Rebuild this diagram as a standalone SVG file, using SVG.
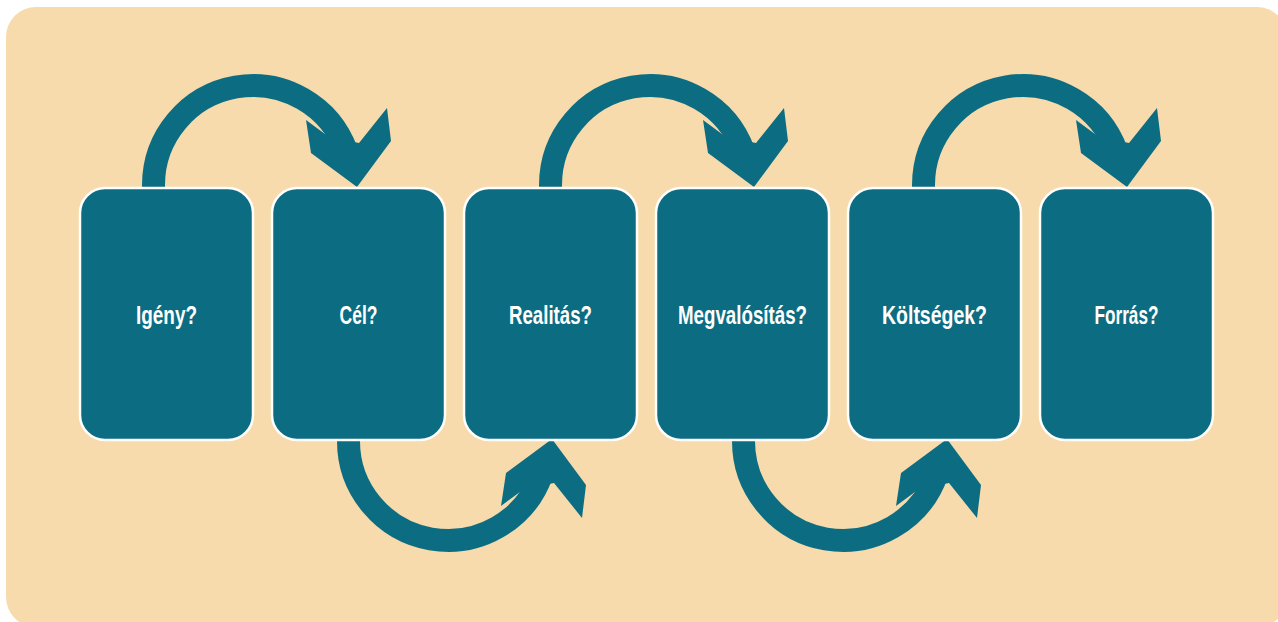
<svg xmlns="http://www.w3.org/2000/svg" xmlns:xlink="http://www.w3.org/1999/xlink" width="1278" height="622" viewBox="0 0 1278 622">
  <style>
    .bg { fill: #F7DBAD; }
    .box { fill: #0C6D82; stroke: #FFFFFF; stroke-width: 2.5; }
    .lbl { fill: #FFFFFF; font-family: "Liberation Sans", Arial, sans-serif; font-weight: bold; font-size: 25px; text-anchor: middle; }
    .arc { fill: none; stroke: #0C6D82; stroke-width: 23; }
    .head { fill: #0C6D82; }
  </style>
  <defs>
    <g id="curvedArrow">
      <path class="arc" d="M -99.5 6 L -99.5 0 A 99.5 99.5 0 0 1 93.5 -34"/>
      <polygon class="head" points="53,-65 58,-32 104,2 138,-44 134,-77 106,-42 76,-48"/>
    </g>
  </defs>
  <rect class="bg" x="6" y="7" width="1281" height="620" rx="30" ry="30"/>
  <g id="connectors">
    <use xlink:href="#curvedArrow" transform="translate(253,185)"/>
    <use xlink:href="#curvedArrow" transform="translate(650,185)"/>
    <use xlink:href="#curvedArrow" transform="translate(1023,185)"/>
    <use xlink:href="#curvedArrow" transform="translate(448,441) scale(1,-1)"/>
    <use xlink:href="#curvedArrow" transform="translate(843,441) scale(1,-1)"/>
  </g>
  <g id="node-igeny">
    <rect class="box" x="80" y="188" width="173" height="252" rx="25" ry="25"/>
    <text class="lbl" x="166.5" y="324" textLength="61" lengthAdjust="spacingAndGlyphs">Igény?</text>
  </g>
  <g id="node-cel">
    <rect class="box" x="272" y="188" width="173" height="252" rx="25" ry="25"/>
    <text class="lbl" x="358.5" y="324" textLength="38" lengthAdjust="spacingAndGlyphs">Cél?</text>
  </g>
  <g id="node-realitas">
    <rect class="box" x="464" y="188" width="173" height="252" rx="25" ry="25"/>
    <text class="lbl" x="550.5" y="324" textLength="83" lengthAdjust="spacingAndGlyphs">Realitás?</text>
  </g>
  <g id="node-megvalositas">
    <rect class="box" x="656" y="188" width="173" height="252" rx="25" ry="25"/>
    <text class="lbl" x="742.5" y="324" textLength="129" lengthAdjust="spacingAndGlyphs">Megvalósítás?</text>
  </g>
  <g id="node-koltsegek">
    <rect class="box" x="848" y="188" width="173" height="252" rx="25" ry="25"/>
    <text class="lbl" x="934.5" y="324" textLength="105" lengthAdjust="spacingAndGlyphs">Költségek?</text>
  </g>
  <g id="node-forras">
    <rect class="box" x="1040" y="188" width="173" height="252" rx="25" ry="25"/>
    <text class="lbl" x="1126.5" y="324" textLength="64" lengthAdjust="spacingAndGlyphs">Forrás?</text>
  </g>
</svg>
